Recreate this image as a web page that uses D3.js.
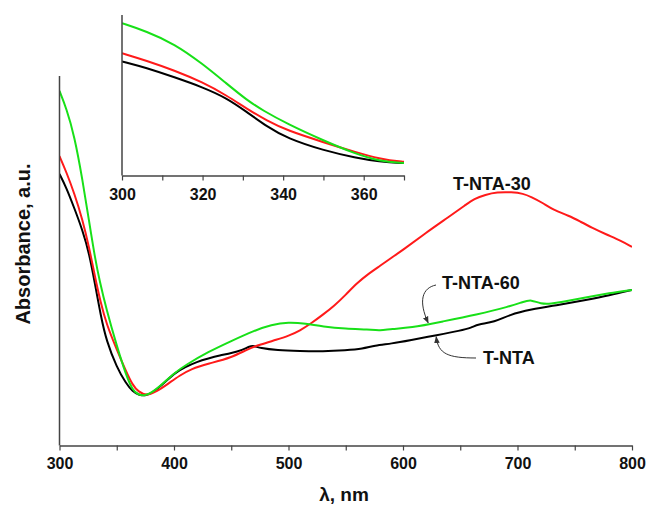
<!DOCTYPE html>
<html>
<head>
<meta charset="utf-8">
<script src="https://cdn.jsdelivr.net/npm/d3@7/dist/d3.min.js"></script>
<style>
  html, body { margin: 0; padding: 0; background: #fff; }
  svg { display: block; font-family: "Liberation Sans", Arial, sans-serif; }
</style>
</head>
<body>
<svg id="chart" width="649" height="508"></svg>
<script>
// UV-Vis absorbance spectra (arbitrary units), wavelength in nm
const wlTNTA = [300, 306, 313, 320, 326, 331, 336, 341, 350, 358, 364, 369, 375, 380, 390, 400, 410, 420, 430, 440, 450, 460, 466, 470, 475, 490, 510, 530, 550, 565, 575, 590, 606, 630, 650, 660, 665, 680, 693, 711, 737, 760, 780, 800];
const absTNTA = [0.733, 0.696, 0.640, 0.582, 0.518, 0.436, 0.351, 0.282, 0.211, 0.168, 0.145, 0.137, 0.134, 0.140, 0.164, 0.195, 0.212, 0.226, 0.235, 0.243, 0.249, 0.258, 0.268, 0.269, 0.263, 0.257, 0.255, 0.254, 0.257, 0.261, 0.270, 0.275, 0.284, 0.298, 0.310, 0.318, 0.327, 0.333, 0.353, 0.367, 0.380, 0.393, 0.405, 0.420];

const wlTNTA30 = [300, 306, 313, 320, 326, 331, 336, 341, 350, 358, 364, 369, 376, 385, 395, 405, 415, 430, 450, 465, 475, 490, 500, 510, 520, 530, 540, 550, 560, 570, 580, 590, 600, 620, 640, 655, 662, 672, 682, 695, 705, 712, 722, 731, 745, 755, 765, 778, 790, 800];
const absTNTA30 = [0.781, 0.738, 0.680, 0.611, 0.533, 0.455, 0.385, 0.328, 0.259, 0.201, 0.162, 0.145, 0.134, 0.146, 0.167, 0.189, 0.207, 0.221, 0.237, 0.261, 0.272, 0.286, 0.296, 0.310, 0.330, 0.353, 0.377, 0.407, 0.439, 0.464, 0.485, 0.507, 0.528, 0.574, 0.617, 0.650, 0.666, 0.677, 0.684, 0.684, 0.680, 0.671, 0.655, 0.636, 0.620, 0.604, 0.588, 0.569, 0.553, 0.536];

const wlTNTA60 = [300, 306, 313, 320, 326, 331, 335, 341, 350, 358, 364, 369, 374, 380, 390, 400, 410, 430, 450, 470, 485, 500, 515, 530, 550, 570, 580, 590, 606, 635, 664, 693, 705, 712, 720, 730, 737, 760, 780, 800];
const absTNTA60 = [0.957, 0.910, 0.836, 0.719, 0.602, 0.506, 0.445, 0.367, 0.269, 0.191, 0.148, 0.137, 0.134, 0.141, 0.166, 0.195, 0.217, 0.253, 0.282, 0.310, 0.326, 0.333, 0.329, 0.321, 0.315, 0.313, 0.310, 0.315, 0.317, 0.335, 0.353, 0.375, 0.388, 0.394, 0.382, 0.383, 0.386, 0.400, 0.411, 0.420];

const seriesNames = ["T-NTA", "T-NTA-30", "T-NTA-60"];
const seriesColors = ["#000000", "#ff1a1a", "#18e018"];
const mainTickValues = [300, 350, 400, 450, 500, 550, 600, 650, 700, 750, 800];
const mainTickLabels = [300, 400, 500, 600, 700, 800];
const insetTickValues = [300, 310, 320, 330, 340, 350, 360, 370];
const insetTickLabels = [300, 320, 340, 360];

const series = [
  { name: seriesNames[0], color: seriesColors[0], pts: wlTNTA.map((w, i) => [w, absTNTA[i]]) },
  { name: seriesNames[1], color: seriesColors[1], pts: wlTNTA30.map((w, i) => [w, absTNTA30[i]]) },
  { name: seriesNames[2], color: seriesColors[2], pts: wlTNTA60.map((w, i) => [w, absTNTA60[i]]) }
];

const svg = d3.select("#chart");
const axisColor = "#444";

// ---------- main panel ----------
const x = d3.scaleLinear().domain([300, 800]).range([59.5, 632]);
const y = d3.scaleLinear().domain([0, 1]).range([445.5, 75]);

const defs = svg.append("defs");
defs.append("clipPath").attr("id", "clipMain")
  .append("rect").attr("x", 59.5).attr("y", 60).attr("width", 632 - 59.5).attr("height", 390);

const line = d3.line().x(d => x(d[0])).y(d => y(d[1])).curve(d3.curveBasis);

const gMain = svg.append("g");
gMain.append("g").attr("clip-path", "url(#clipMain)")
  .selectAll("path").data(series).join("path")
  .attr("d", d => line(d.pts))
  .attr("fill", "none")
  .attr("stroke", d => d.color)
  .attr("stroke-width", 2)
  .attr("stroke-linejoin", "round");

const xAxis = d3.axisBottom(x)
  .tickValues(mainTickValues)
  .tickFormat(v => mainTickLabels.includes(v) ? v : "")
  .tickSize(5).tickSizeOuter(0).tickPadding(7);
const gx = gMain.append("g").attr("transform", "translate(0,445.5)").call(xAxis);
gx.select(".domain").attr("stroke", axisColor).attr("stroke-width", 1.5);
gx.selectAll(".tick line").attr("stroke", axisColor).attr("stroke-width", 1.2);
gx.selectAll(".tick text").attr("font-size", 16).attr("font-weight", "bold")
  .attr("fill", "#111").attr("font-family", "'Liberation Sans', Arial, sans-serif");

// vertical axis line (no ticks)
gMain.append("line")
  .attr("x1", 59.5).attr("x2", 59.5).attr("y1", y(0)).attr("y2", 76)
  .attr("stroke", axisColor).attr("stroke-width", 1.5);

// axis titles
svg.append("text")
  .attr("x", 344).attr("y", 501)
  .attr("text-anchor", "middle")
  .attr("font-size", 19).attr("font-weight", "bold").attr("fill", "#111")
  .text("λ, nm");
svg.append("text")
  .attr("transform", "translate(30,244) rotate(-90)")
  .attr("text-anchor", "middle")
  .attr("font-size", 20).attr("font-weight", "bold").attr("fill", "#111")
  .text("Absorbance, a.u.");

// series labels
svg.append("text").attr("x", 453).attr("y", 189.5)
  .attr("font-size", 18).attr("font-weight", "bold").attr("fill", "#111")
  .text(seriesNames[1]);
svg.append("text").attr("x", 442).attr("y", 288.5)
  .attr("font-size", 18).attr("font-weight", "bold").attr("fill", "#111")
  .text(seriesNames[2]);
svg.append("text").attr("x", 483).attr("y", 363.5)
  .attr("font-size", 18).attr("font-weight", "bold").attr("fill", "#111")
  .text(seriesNames[0]);

// curved pointer arrows from labels to their curves
defs.append("marker").attr("id", "arrowHead")
  .attr("viewBox", "0 0 10 10").attr("refX", 9).attr("refY", 5)
  .attr("markerWidth", 7).attr("markerHeight", 7)
  .attr("orient", "auto-start-reverse")
  .append("path").attr("d", "M0,1 L10,5 L0,9 Z").attr("fill", "#333");

const arrowTo60 = { wl: 622, from: [436, 285] };
const arrowToTNTA = { wl: 629, from: [476, 358] };
const valueAt = (pts, w) => {
  const i = d3.bisector(d => d[0]).left(pts, w);
  const a = pts[i - 1], b = pts[i];
  return a[1] + (b[1] - a[1]) * (w - a[0]) / (b[0] - a[0]);
};
{
  const tx = x(arrowTo60.wl), ty = y(valueAt(series[2].pts, arrowTo60.wl)) - 1.5;
  const [fx, fy] = arrowTo60.from;
  svg.append("path")
    .attr("d", `M${fx},${fy} C${fx - 14},${fy + 3} ${tx - 10},${fy + 16} ${tx},${ty}`)
    .attr("fill", "none").attr("stroke", "#333").attr("stroke-width", 1)
    .attr("marker-end", "url(#arrowHead)");
}
{
  const tx = x(arrowToTNTA.wl), ty = y(valueAt(series[0].pts, arrowToTNTA.wl)) + 1.5;
  const [fx, fy] = arrowToTNTA.from;
  svg.append("path")
    .attr("d", `M${fx},${fy} C${fx - 28},${fy} ${tx + 2},${fy - 4} ${tx},${ty}`)
    .attr("fill", "none").attr("stroke", "#333").attr("stroke-width", 1)
    .attr("marker-end", "url(#arrowHead)");
}

// ---------- inset: 300–370 nm ----------
const xi = d3.scaleLinear().domain([300, 370]).range([122, 404]);
const yi = d3.scaleLinear().domain([0.064, 1.002]).range([175.5, 15.5]);

defs.append("clipPath").attr("id", "clipInset")
  .append("rect").attr("x", 122).attr("y", 10).attr("width", 404 - 122).attr("height", 170);

const lineInset = d3.line().x(d => xi(d[0])).y(d => yi(d[1])).curve(d3.curveBasis);
const gIn = svg.append("g");
gIn.append("g").attr("clip-path", "url(#clipInset)")
  .selectAll("path").data(series).join("path")
  .attr("d", d => lineInset(d.pts.filter(p => p[0] <= 390)))
  .attr("fill", "none")
  .attr("stroke", d => d.color)
  .attr("stroke-width", 2)
  .attr("stroke-linejoin", "round");

const xiAxis = d3.axisBottom(xi)
  .tickValues(insetTickValues)
  .tickFormat(v => insetTickLabels.includes(v) ? v : "")
  .tickSize(5).tickSizeOuter(0).tickPadding(8);
const gxi = gIn.append("g").attr("transform", "translate(0,175.5)").call(xiAxis);
gxi.select(".domain").attr("stroke", axisColor).attr("stroke-width", 1.5);
gxi.selectAll(".tick line").attr("stroke", axisColor).attr("stroke-width", 1.2);
gxi.selectAll(".tick text").attr("font-size", 16).attr("font-weight", "bold")
  .attr("fill", "#111").attr("font-family", "'Liberation Sans', Arial, sans-serif");

gIn.append("line")
  .attr("x1", 122).attr("x2", 122).attr("y1", 175.5).attr("y2", 15)
  .attr("stroke", axisColor).attr("stroke-width", 1.5);
</script>
</body>
</html>
